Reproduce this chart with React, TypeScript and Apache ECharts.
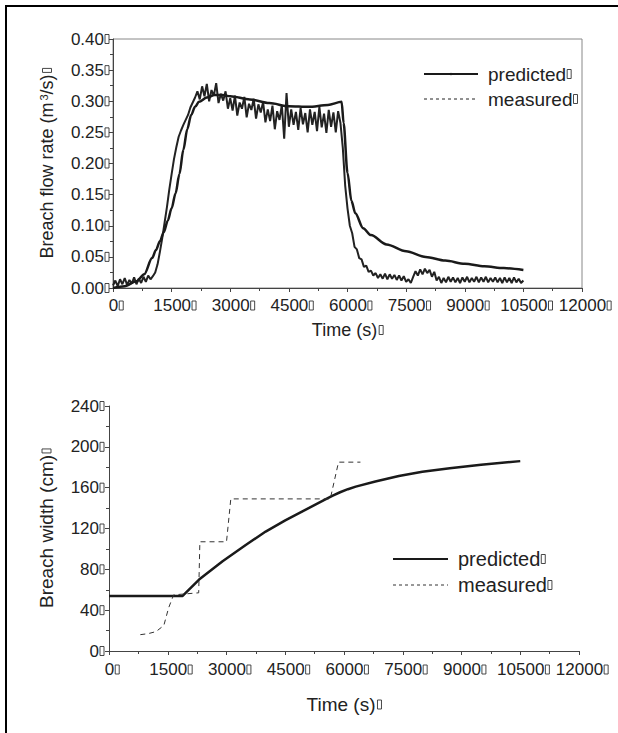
import React, { useEffect, useRef } from 'react';
import * as echarts from 'echarts';

const FONT = '"Liberation Sans", Arial, Helvetica, sans-serif';
const INK = '#222';

// Tick labels
const timeTickLabels = ['0', '1500', '3000', '4500', '6000', '7500', '9000', '10500', '12000'];
const flowTickLabels = ['0.00', '0.05', '0.10', '0.15', '0.20', '0.25', '0.30', '0.35', '0.40'];
const widthTickLabels = ['0', '40', '80', '120', '160', '200', '240'];

// Top chart: breach flow rate (m3/s) vs time (s)
const predictedFlow: [number, number][] = [
  [0, 0.0], [300, 0.003], [600, 0.011], [800, 0.022], [1000, 0.048], [1100, 0.061], [1200, 0.075],
  [1300, 0.09], [1400, 0.108], [1500, 0.128], [1600, 0.152], [1700, 0.183], [1800, 0.222], [1900, 0.255],
  [2000, 0.278], [2100, 0.291], [2200, 0.299], [2400, 0.306], [2600, 0.31], [2800, 0.31], [3000, 0.308],
  [3500, 0.303], [4000, 0.297], [4500, 0.292], [5000, 0.291], [5500, 0.294], [5850, 0.299], [5900, 0.265],
  [6000, 0.185], [6100, 0.14], [6200, 0.12], [6400, 0.096], [6600, 0.085], [7000, 0.07], [7500, 0.059],
  [8000, 0.05], [8500, 0.044], [9000, 0.039], [9500, 0.035], [10000, 0.032], [10500, 0.029],
];

const measuredFlow: [number, number][] = [
  [0, 0.004], [60, 0.012], [120, 0.003], [180, 0.014], [240, 0.006], [300, 0.016], [360, 0.005], [420, 0.013],
  [480, 0.007], [540, 0.017], [600, 0.006], [660, 0.015], [720, 0.008], [780, 0.018], [840, 0.01], [900, 0.02],
  [960, 0.014], [1020, 0.019], [1080, 0.025], [1140, 0.038], [1200, 0.058], [1260, 0.08], [1320, 0.105],
  [1380, 0.13], [1440, 0.158], [1500, 0.183], [1560, 0.207], [1620, 0.226], [1680, 0.243], [1740, 0.253],
  [1800, 0.262], [1860, 0.27], [1920, 0.278], [1980, 0.29], [2040, 0.298], [2100, 0.306],
  [2160, 0.316], [2220, 0.303], [2280, 0.324], [2340, 0.308], [2400, 0.328], [2460, 0.3], [2520, 0.318],
  [2580, 0.309], [2640, 0.329], [2700, 0.297], [2760, 0.312], [2820, 0.301], [2880, 0.316], [2940, 0.288],
  [3000, 0.305], [3060, 0.285], [3120, 0.309], [3180, 0.277], [3240, 0.298], [3300, 0.288], [3360, 0.307],
  [3420, 0.274], [3480, 0.296], [3540, 0.286], [3600, 0.304], [3660, 0.272], [3720, 0.295], [3780, 0.282],
  [3840, 0.299], [3900, 0.266], [3960, 0.287], [4020, 0.268], [4080, 0.293], [4140, 0.255], [4200, 0.284],
  [4260, 0.27], [4320, 0.294], [4380, 0.24], [4440, 0.313], [4500, 0.259], [4560, 0.287], [4620, 0.262],
  [4680, 0.283], [4740, 0.254], [4800, 0.289], [4860, 0.263], [4920, 0.281], [4980, 0.25], [5040, 0.287],
  [5100, 0.262], [5160, 0.283], [5220, 0.252], [5280, 0.291], [5340, 0.258], [5400, 0.28], [5460, 0.249],
  [5520, 0.286], [5580, 0.259], [5640, 0.282], [5700, 0.25], [5760, 0.284], [5820, 0.265],
  [5880, 0.225], [5940, 0.165], [6000, 0.128], [6060, 0.1], [6120, 0.088], [6180, 0.066], [6240, 0.062],
  [6300, 0.048], [6360, 0.046], [6420, 0.034], [6480, 0.036], [6540, 0.026], [6600, 0.028], [6660, 0.02],
  [6720, 0.024], [6780, 0.016], [6840, 0.022], [6900, 0.015], [6960, 0.023], [7020, 0.014], [7080, 0.022],
  [7140, 0.015], [7200, 0.021], [7260, 0.013], [7320, 0.02], [7380, 0.012], [7440, 0.019], [7500, 0.01],
  [7560, 0.014], [7620, 0.008], [7680, 0.018], [7740, 0.027], [7800, 0.02], [7860, 0.03], [7920, 0.022],
  [7980, 0.031], [8040, 0.024], [8100, 0.029], [8160, 0.018], [8220, 0.026], [8280, 0.012], [8340, 0.018],
  [8400, 0.008], [8460, 0.016], [8520, 0.009], [8580, 0.018], [8640, 0.01], [8700, 0.017], [8760, 0.009],
  [8820, 0.016], [8880, 0.008], [8940, 0.017], [9000, 0.01], [9060, 0.018], [9120, 0.009], [9180, 0.016],
  [9240, 0.01], [9300, 0.018], [9360, 0.009], [9420, 0.017], [9480, 0.01], [9540, 0.018], [9600, 0.009],
  [9660, 0.016], [9720, 0.01], [9780, 0.017], [9840, 0.009], [9900, 0.016], [9960, 0.008], [10020, 0.017],
  [10080, 0.009], [10140, 0.016], [10200, 0.008], [10260, 0.017], [10320, 0.009], [10380, 0.015],
  [10440, 0.008], [10500, 0.012],
];

// Bottom chart: breach width (cm) vs time (s)
const predictedWidth: [number, number][] = [
  [0, 54], [1880, 54], [2300, 70], [2900, 88], [3500, 104], [4000, 117], [4500, 128], [5000, 138],
  [5500, 148], [5700, 152], [5900, 155.5], [6100, 158.5], [6300, 161], [6800, 166], [7400, 171.5],
  [8000, 175.5], [8700, 179], [9500, 182.5], [10500, 186],
];

const measuredWidth: [number, number][] = [
  [800, 16], [1000, 17], [1200, 19], [1400, 25], [1520, 42], [1650, 55], [2290, 57], [2320, 107],
  [3000, 107], [3110, 149], [5650, 149], [5860, 185], [6420, 185],
];

// small empty box that follows every text in the source figure
const boxStyle = { width: 4, height: 9, borderColor: '#333', borderWidth: 0.9, fontSize: 9 };

const tickRich = (padLeft: number) => ({
  a: { fontSize: 17, fontFamily: FONT, color: INK, padding: [0, 1, 0, padLeft] },
  b: boxStyle,
});

const lookup = (labels: string[], step: number) => (v: number) => {
  const i = Math.round(v / step);
  return `{a|${labels[i] ?? ''}}{b| }`;
};

const axisBase = {
  axisLine: { show: true, onZero: false, lineStyle: { color: '#444', width: 1 } },
  axisTick: { show: true, length: 4, lineStyle: { color: '#444', width: 1 } },
  minorTick: { show: true, splitNumber: 2, length: 3, lineStyle: { color: '#444', width: 1 } },
  splitLine: { show: false },
  minorSplitLine: { show: false },
};

const nameRich = (size: number) => ({
  a: { fontSize: size, fontFamily: FONT, color: INK, padding: [0, 2, 0, 0] },
  s: { fontSize: Math.round(size * 0.6), fontFamily: FONT, color: INK, verticalAlign: 'top' as const },
  b: boxStyle,
});

const xAxisFor = (gridIndex: number, nameGap: number, nameSize: number, margin: number) => ({
  ...axisBase,
  type: 'value' as const,
  gridIndex,
  min: 0,
  max: 12000,
  interval: 1500,
  axisLabel: { margin, formatter: lookup(timeTickLabels, 1500), rich: tickRich(6) },
  name: '{a|Time (s)}{b| }',
  nameLocation: 'middle' as const,
  nameGap,
  nameTextStyle: { fontSize: nameSize, fontFamily: FONT, color: INK, rich: nameRich(nameSize) },
});

const hidden = { color: 'rgba(0,0,0,0)', borderWidth: 0 };

const legendFor = (
  top: number, left: number, itemWidth: number, itemGap: number, fontSize: number, suffix: string, dot: boolean,
) => ({
  orient: 'vertical' as const,
  left,
  top,
  padding: 0,
  itemWidth,
  itemHeight: 3,
  itemGap,
  data: [
    dot ? { name: `predicted${suffix}` } : { name: `predicted${suffix}`, itemStyle: hidden },
    { name: `measured${suffix}`, itemStyle: hidden, lineStyle: { type: [3, 3], width: 1 } },
  ],
  formatter: (name: string) => `{a|${name.replace(suffix, '')}}{b| }`,
  textStyle: {
    fontSize,
    fontFamily: FONT,
    color: INK,
    lineHeight: 20,
    padding: [0, 0, 0, 5],
    rich: {
      a: { fontSize, fontFamily: FONT, color: INK, lineHeight: 20, padding: [0, 1, 0, 0] },
      b: boxStyle,
    },
  },
});

const option = {
  animation: false,
  backgroundColor: '#fff',
  graphic: [
    {
      type: 'rect',
      shape: { x: 6, y: 6, width: 700, height: 800 },
      style: { fill: 'none', stroke: '#000', lineWidth: 2 },
      silent: true,
    },
  ],
  grid: [
    { left: 113, top: 39, width: 469, height: 249, show: true, borderColor: '#888', borderWidth: 1, backgroundColor: 'transparent' },
    { left: 109, top: 406, width: 470, height: 245 },
  ],
  legend: [legendFor(64, 423, 54, 5, 19, '', true), legendFor(549, 392, 55, 6, 20, ' width', false)],
  xAxis: [xAxisFor(0, 33, 18, 9), xAxisFor(1, 44, 19, 10)],
  yAxis: [
    {
      ...axisBase,
      type: 'value',
      gridIndex: 0,
      min: 0,
      max: 0.4,
      interval: 0.05,
      axisLabel: { margin: 4, formatter: lookup(flowTickLabels, 0.05), rich: tickRich(0) },
      name: '{a|Breach flow rate (m}{s|3}{a|/s)}{b| }',
      nameLocation: 'middle',
      nameGap: 57,
      nameRotate: 90,
      nameTextStyle: { fontSize: 18, fontFamily: FONT, color: INK, rich: nameRich(18) },
    },
    {
      ...axisBase,
      type: 'value',
      gridIndex: 1,
      min: 0,
      max: 240,
      interval: 40,
      axisLabel: { margin: 5, formatter: lookup(widthTickLabels, 40), rich: tickRich(0) },
      name: '{a|Breach width (cm)}{b| }',
      nameLocation: 'middle',
      nameGap: 53,
      nameRotate: 90,
      nameTextStyle: { fontSize: 19, fontFamily: FONT, color: INK, rich: nameRich(19) },
    },
  ],
  series: [
    {
      name: 'measured',
      type: 'line',
      xAxisIndex: 0,
      yAxisIndex: 0,
      data: measuredFlow,
      showSymbol: false,
      symbol: 'none',
      lineStyle: { color: '#222', width: 2 },
      itemStyle: { color: '#222' },
      z: 2,
    },
    {
      name: 'predicted',
      type: 'line',
      xAxisIndex: 0,
      yAxisIndex: 0,
      data: predictedFlow,
      smooth: 0.3,
      smoothMonotone: 'x',
      showSymbol: false,
      symbol: 'circle',
      lineStyle: { color: '#1a1a1a', width: 2.5 },
      itemStyle: { color: '#1a1a1a' },
      z: 3,
    },
    {
      name: 'predicted width',
      type: 'line',
      xAxisIndex: 1,
      yAxisIndex: 1,
      data: predictedWidth,
      showSymbol: false,
      symbol: 'none',
      lineStyle: { color: '#1a1a1a', width: 2.5 },
      itemStyle: { color: '#1a1a1a' },
    },
    {
      name: 'measured width',
      type: 'line',
      xAxisIndex: 1,
      yAxisIndex: 1,
      data: measuredWidth,
      showSymbol: false,
      symbol: 'none',
      lineStyle: { color: '#333', width: 1, type: [5, 4] },
      itemStyle: { color: '#333' },
    },
  ],
};

export default function App() {
  const ref = useRef<HTMLDivElement>(null);
  useEffect(() => {
    document.body.style.margin = '0';
    const chart = echarts.init(ref.current as HTMLDivElement, null, { renderer: 'svg' });
    chart.setOption(option as any);
    return () => chart.dispose();
  }, []);
  return <div ref={ref} style={{ width: 618, height: 733 }} />;
}
